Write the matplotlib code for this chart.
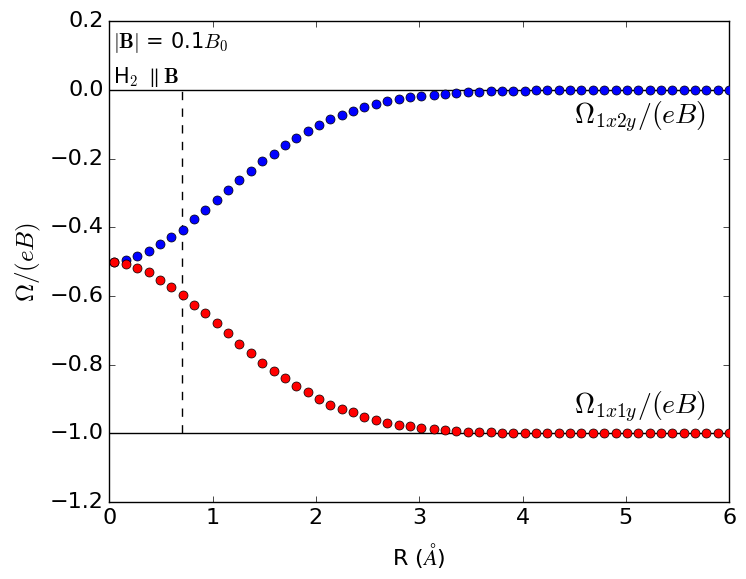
import matplotlib
matplotlib.use("Agg")
import matplotlib.pyplot as plt

plt.style.use("classic")
plt.rcParams["mathtext.fontset"] = "cm"

# bond length R in Angstrom
R = [0.05, 0.16, 0.27, 0.38, 0.49, 0.60, 0.71, 0.82, 0.93, 1.04,
     1.15, 1.26, 1.37, 1.48, 1.59, 1.70, 1.81, 1.92, 2.03, 2.14,
     2.25, 2.36, 2.47, 2.58, 2.69, 2.80, 2.91, 3.02, 3.14, 3.25,
     3.36, 3.47, 3.58, 3.69, 3.80, 3.91, 4.02, 4.13, 4.24, 4.35,
     4.46, 4.57, 4.68, 4.79, 4.90, 5.01, 5.12, 5.23, 5.34, 5.45,
     5.56, 5.67, 5.78, 5.89, 6.00]

omega_1x2y = [-0.500, -0.494, -0.484, -0.470, -0.449, -0.429, -0.407, -0.376, -0.350, -0.321,
              -0.292, -0.263, -0.236, -0.208, -0.185, -0.160, -0.140, -0.119, -0.103, -0.085,
              -0.073, -0.060, -0.050, -0.041, -0.033, -0.026, -0.021, -0.017, -0.013, -0.011,
              -0.008, -0.007, -0.005, -0.004, -0.003, -0.002, -0.002, -0.001, -0.001, 0.000,
              0.000, 0.000, 0.000, 0.000, 0.000, 0.000, 0.000, 0.000, 0.000, 0.000,
              0.000, 0.000, 0.000, 0.000, 0.000]

omega_1x1y = [-0.500, -0.508, -0.517, -0.531, -0.552, -0.573, -0.596, -0.625, -0.650, -0.679,
              -0.709, -0.739, -0.765, -0.794, -0.817, -0.840, -0.861, -0.881, -0.900, -0.917,
              -0.928, -0.939, -0.951, -0.960, -0.969, -0.975, -0.980, -0.983, -0.986, -0.989,
              -0.993, -0.995, -0.996, -0.997, -0.998, -0.998, -0.999, -0.999, -1.000, -1.000,
              -1.000, -1.000, -1.000, -1.000, -1.000, -1.000, -1.000, -1.000, -1.000, -1.000,
              -1.000, -1.000, -1.000, -1.000, -1.000]

R_eq = 0.7

fig = plt.figure(figsize=(7.46, 5.79), dpi=100)
ax = fig.add_axes([0.1465, 0.133, 0.831, 0.830])

ax.axhline(0.0, color="k", lw=1)
ax.axhline(-1.0, color="k", lw=1)
ax.plot([R_eq, R_eq], [-1.0, 0.0], "k--", lw=1)

ax.plot(R, omega_1x2y, "o", color="b", markersize=6.5, markeredgewidth=0.5, zorder=3)
ax.plot(R, omega_1x1y, "o", color="r", markersize=6.5, markeredgewidth=0.5, zorder=3)

ax.text(0.04, 0.122, r"$|\mathbf{B}|$ = 0.1$B_0$", fontsize=15, va="baseline")
ax.text(0.04, 0.02, r"H$_2$ $\parallel\mathbf{B}$", fontsize=15, va="baseline")
ax.text(4.5, -0.1, r"$\Omega_{1x2y}/(eB)$", fontsize=20, va="baseline")
ax.text(4.5, -0.945, r"$\Omega_{1x1y}/(eB)$", fontsize=20, va="baseline")

ax.set_xlim(0, 6)
ax.set_ylim(-1.2, 0.2)
ax.set_xlabel(r"R ($\AA$)", fontsize=16, labelpad=10)
ax.set_ylabel(r"$\Omega/(eB)$", fontsize=18)
ax.tick_params(labelsize=16)

fig.savefig("out.png", dpi=100)
